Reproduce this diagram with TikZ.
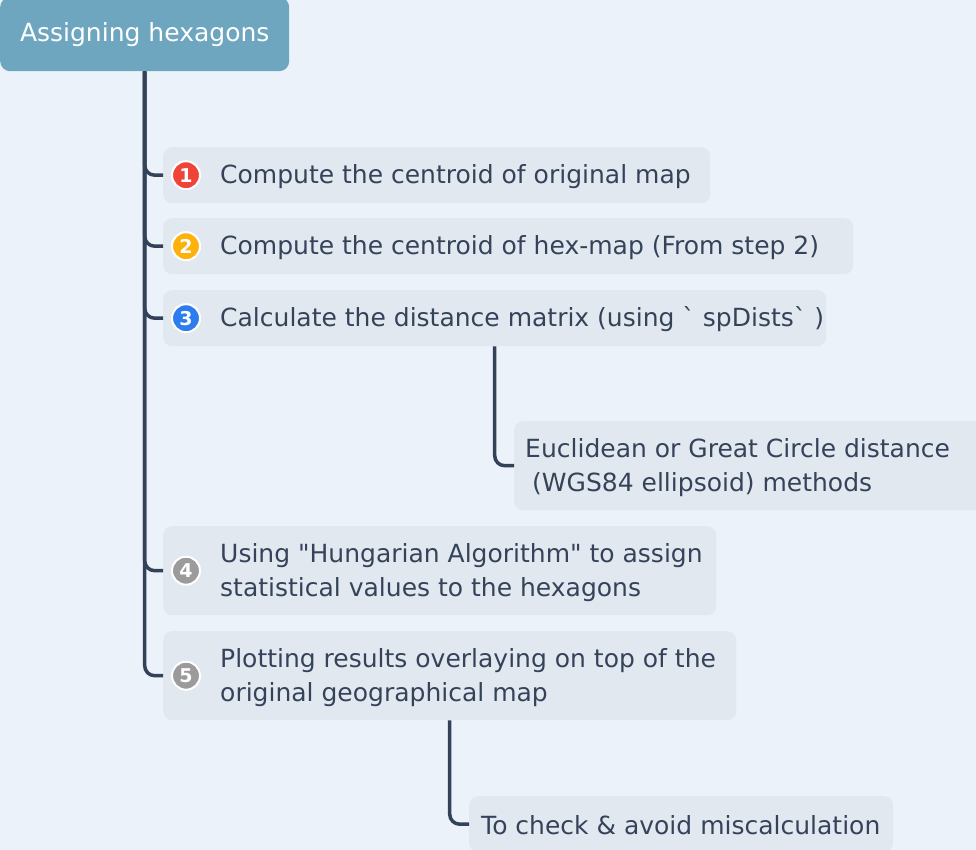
\documentclass[tikz,border=0pt]{standalone}
\usepackage{fontspec}
\newfontfamily\mapFont{DejaVu Sans}
\definecolor{hxBack}{HTML}{ECF2FA}
\definecolor{hxCard}{HTML}{E2E8F0}
\definecolor{hxRoot}{HTML}{6FA6BF}
\definecolor{hxLine}{HTML}{334259}
\definecolor{hxText}{HTML}{35435A}
\definecolor{hxRed}{HTML}{F0443A}
\definecolor{hxGold}{HTML}{FDB10B}
\definecolor{hxBlue}{HTML}{2D7CF0}
\definecolor{hxGrey}{HTML}{9B9B9B}
\usetikzlibrary{calc,positioning}

\begin{document}
\begin{tikzpicture}[x=1pt, y=-1pt,
  card/.style={fill=hxCard, rounded corners=9pt, anchor=north west, inner sep=0pt},
  itemtext/.style={font=\mapFont\fontsize{25}{34}\selectfont, text=hxText, align=left, anchor=west, inner sep=0pt},
  badge/.style={circle, fill=#1, draw=white, line width=2pt, minimum size=28pt, inner sep=0pt,
    text=white, font=\mapFont\bfseries\fontsize{19}{19}\selectfont},
  branch/.style={draw=hxLine, line width=3.5pt, rounded corners=10pt}]
  \useasboundingbox (0,0) rectangle (976,850);
  \clip (0,0) rectangle (976,850);
  \fill[hxBack] (0,0) rectangle (976,850);

  % root
  \node[fill=hxRoot, rounded corners=10pt, minimum width=289pt, minimum height=74pt, anchor=north west,
    text=white, font=\mapFont\fontsize{25}{28}\selectfont] (root) at (0,-3) {Assigning hexagons};

  % steps
  \node[card, minimum width=547pt, minimum height=56pt] (c1) at (163,147) {};
  \node[card, minimum width=690pt, minimum height=56pt] (c2) at (163,218) {};
  \node[card, minimum width=663pt, minimum height=56pt] (c3) at (163,290) {};
  \node[card, minimum width=553pt, minimum height=89pt] (c4) at (163,526) {};
  \node[card, minimum width=573pt, minimum height=89pt] (c5) at (163,631) {};
  \node[card, minimum width=480pt, minimum height=89pt] (s3) at (514,421) {};
  \node[card, minimum width=424pt, minimum height=56pt] (s5) at (469,796) {};

  \node[badge=hxRed]  (m1) at ($(c1.west)+(23,0)$) {1};
  \node[badge=hxGold] (m2) at ($(c2.west)+(23,0)$) {2};
  \node[badge=hxBlue] (m3) at ($(c3.west)+(23,0)$) {3};
  \node[badge=hxGrey] (m4) at ($(c4.west)+(23,0)$) {4};
  \node[badge=hxGrey] (m5) at ($(c5.west)+(23,0)$) {5};

  \node[itemtext] (t1) at ($(c1.west)+(57,1)$) {Compute the centroid of original map};
  \node[itemtext] (t2) at ($(c2.west)+(57,1)$) {Compute the centroid of hex-map (From step 2)};
  \node[itemtext] (t3) at ($(c3.west)+(57,1)$) {Calculate the distance matrix (using ` spDists` )};
  \node[itemtext] (t4) at ($(c4.west)+(57,2)$) {Using "Hungarian Algorithm" to assign\\statistical values to the hexagons};
  \node[itemtext] (t5) at ($(c5.west)+(57,2)$) {Plotting results overlaying on top of the\\original geographical map};
  \node[itemtext] (u3) at ($(s3.west)+(11,2)$) {Euclidean or Great Circle distance\\\hspace*{7pt}(WGS84 ellipsoid) methods};
  \node[itemtext] (u5) at ($(s5.west)+(12,1)$) {To check \& avoid miscalculation};

  % connectors
  \draw[branch] (root.south) |- (c1.west);
  \draw[branch] (root.south) |- (c2.west);
  \draw[branch] (root.south) |- (c3.west);
  \draw[branch] (root.south) |- (c4.west);
  \draw[branch] (root.south) |- (c5.west);
  \draw[branch] (c3.south) |- (s3.west);
  \draw[branch] (c5.south) |- (s5.west);
\end{tikzpicture}
\end{document}
